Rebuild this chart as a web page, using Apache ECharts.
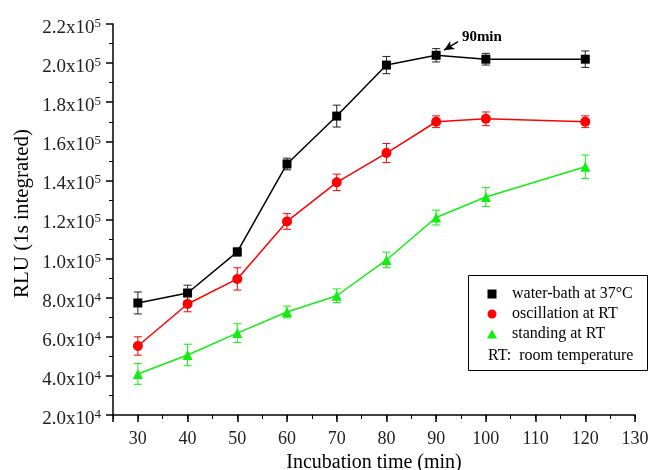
<!DOCTYPE html>
<html>
<head>
<meta charset="utf-8">
<script src="https://cdn.jsdelivr.net/npm/echarts@6/dist/echarts.min.js"></script>
<style>
html, body { margin: 0; background: #fff; }
#main { width: 661px; height: 470px; }
</style>
</head>
<body>
<div id="main"></div>
<script>
// incubation times (min)
var times = [30, 40, 50, 60, 70, 80, 90, 100, 120];

// RLU values and error bars
var waterBath = [77300, 82400, 103400, 148400, 172900, 199000, 204000, 202000, 202000];
var waterBathErr = [5600, 4000, 2000, 3000, 5600, 4400, 3400, 3000, 4200];
var oscillation = [55300, 76800, 89600, 119000, 139000, 154000, 170000, 171500, 170000];
var oscillationErr = [4700, 4000, 5700, 4000, 4200, 4900, 3000, 3500, 3000];
var standing = [41000, 50700, 61900, 72700, 81000, 99300, 121000, 131500, 147000];
var standingErr = [5300, 5500, 4800, 3000, 3500, 4000, 3800, 4800, 6000];

var serif = 'Liberation Serif';
var squareIcon = 'path://M0,0L10,0L10,10L0,10Z';
var triangleIcon = 'path://M5,0L10,9L0,9Z';

var myChart = echarts.init(document.getElementById('main'));

function pairs(values) {
    return times.map((t, i) => [t, values[i]]);
}

function errorBars(name, values, errs, color) {
    return {
        type: 'custom',
        name: name,
        silent: true,
        z: 1,
        encode: { x: 0, y: 1 },
        data: times.map((t, i) => [t, values[i], errs[i]]),
        renderItem: function (params, api) {
            var x = api.value(0);
            var hi = api.coord([x, api.value(1) + api.value(2)]);
            var lo = api.coord([x, api.value(1) - api.value(2)]);
            var w = 4;
            var st = { stroke: color, lineWidth: 1 };
            return {
                type: 'group',
                children: [
                    { type: 'line', shape: { x1: hi[0], y1: hi[1], x2: lo[0], y2: lo[1] }, style: st },
                    { type: 'line', shape: { x1: hi[0] - w, y1: hi[1], x2: hi[0] + w, y2: hi[1] }, style: st },
                    { type: 'line', shape: { x1: lo[0] - w, y1: lo[1], x2: lo[0] + w, y2: lo[1] }, style: st }
                ]
            };
        }
    };
}

function lineSeries(name, values, color, symbol, size) {
    return {
        type: 'line',
        name: name,
        data: pairs(values),
        symbol: symbol,
        symbolSize: size,
        z: 3,
        itemStyle: { color: color },
        lineStyle: { color: color, width: 1.5 }
    };
}

var blackSeries = lineSeries('water-bath at 37°C', waterBath, '#000000', 'rect', 9);
blackSeries.markLine = {
    silent: true,
    symbol: ['none', 'arrow'],
    symbolSize: [7, 10],
    label: { show: false },
    lineStyle: { color: '#000', width: 1.5, type: 'solid' },
    data: [[{ coord: [94.4, 211000] }, { coord: [91.6, 206600] }]]
};
blackSeries.markPoint = {
    silent: true,
    symbolSize: 0,
    label: {
        show: true,
        formatter: '90min',
        fontFamily: serif,
        fontWeight: 'bold',
        fontSize: 15,
        color: '#000'
    },
    data: [{ coord: [99.2, 213300] }]
};

var option = {
    animation: false,
    grid: { left: 113, right: 26, top: 24, bottom: 55, outerBoundsMode: 'none', containLabel: false },
    legend: {
        orient: 'vertical',
        left: 482,
        top: 281,
        itemGap: 4,
        itemWidth: 30,
        itemHeight: 9,
        textStyle: { fontFamily: serif, fontSize: 16, color: '#000' },
        data: [
            { name: 'water-bath at 37°C', icon: squareIcon },
            { name: 'oscillation at RT', icon: 'circle' },
            { name: 'standing at RT', icon: triangleIcon }
        ]
    },
    xAxis: [
        {
            type: 'value',
            min: 25,
            max: 130,
            splitNumber: 11,
            name: 'Incubation time (min)',
            nameLocation: 'middle',
            nameGap: 38,
            nameTextStyle: { fontFamily: serif, fontSize: 20, color: '#000' },
            axisLine: { show: true, lineStyle: { color: '#000', width: 1.5 } },
            axisTick: { show: true, length: 7, lineStyle: { color: '#000', width: 1.5 } },
            splitLine: { show: false },
            axisLabel: {
                margin: 15,
                fontFamily: serif,
                fontSize: 18,
                color: '#222',
                formatter: v => (v % 10 === 0 ? String(v) : '')
            }
        },
        {
            // minor ticks every 5 min
            type: 'value',
            position: 'bottom',
            min: 25,
            max: 130,
            interval: 5,
            axisLine: { show: false },
            axisTick: { show: true, length: 4, lineStyle: { color: '#000', width: 1 } },
            axisLabel: { show: false },
            splitLine: { show: false }
        }
    ],
    yAxis: {
        type: 'value',
        min: 20000,
        max: 220000,
        interval: 20000,
        axisLine: { show: true, lineStyle: { color: '#000', width: 1.5 } },
        axisTick: { show: true, length: 7, lineStyle: { color: '#000', width: 1.5 } },
        minorTick: { show: true, splitNumber: 2, length: 4, lineStyle: { color: '#000', width: 1 } },
        splitLine: { show: false },
        axisLabel: {
            margin: 12,
            padding: [8, 0, 0, 0],
            formatter: function (v) {
                var e = Math.floor(Math.log10(v));
                var m = (v / Math.pow(10, e)).toFixed(1);
                return '{b|' + m + 'x10}{s|' + e + '}';
            },
            rich: {
                b: { fontFamily: serif, fontSize: 19, color: '#222' },
                s: { fontFamily: serif, fontSize: 13, color: '#222', verticalAlign: 'top', padding: [0, 0, 9, 0] }
            }
        }
    },
    graphic: [
        {
            type: 'text',
            left: 12,
            top: 129,
            rotation: Math.PI / 2,
            style: { text: 'RLU (1s integrated)', font: '21px "Liberation Serif"', fill: '#000' }
        },
        {
            type: 'rect',
            left: 466,
            top: 273,
            shape: { width: 179, height: 95 },
            style: { fill: 'none', stroke: '#000', lineWidth: 1 }
        },
        {
            type: 'text',
            left: 488,
            top: 348,
            style: { text: 'RT:  room temperature', font: '16px "Liberation Serif"', fill: '#000' }
        }
    ],
    series: [
        errorBars('err-w', waterBath, waterBathErr, '#222222'),
        errorBars('err-o', oscillation, oscillationErr, '#ff0000'),
        errorBars('err-s', standing, standingErr, '#11ee11'),
        blackSeries,
        lineSeries('oscillation at RT', oscillation, '#ff0000', 'circle', 10),
        lineSeries('standing at RT', standing, '#11ee11', 'triangle', 10)
    ]
};

myChart.setOption(option);
</script>
</body>
</html>
